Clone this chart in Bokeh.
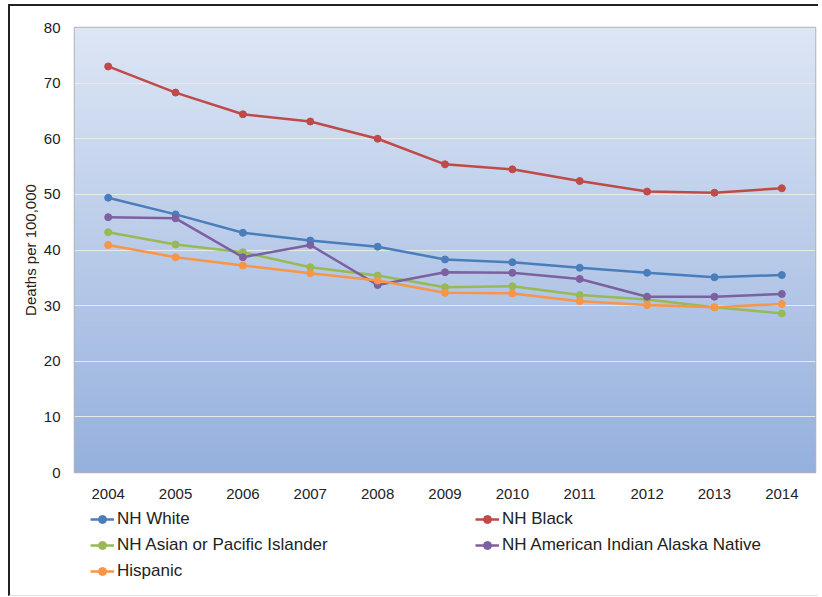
import numpy as np
from bokeh.plotting import figure
from bokeh.layouts import column
from bokeh.models import FixedTicker, Legend, LegendItem, Range1d
from bokeh.embed import file_html
from bokeh.resources import INLINE

years = [2004, 2005, 2006, 2007, 2008, 2009, 2010, 2011, 2012, 2013, 2014]
nh_white = [49.4, 46.4, 43.1, 41.7, 40.6, 38.3, 37.8, 36.8, 35.9, 35.1, 35.5]
nh_black = [73.0, 68.3, 64.4, 63.1, 60.0, 55.4, 54.5, 52.4, 50.5, 50.3, 51.1]
nh_asian = [43.2, 41.0, 39.6, 36.9, 35.4, 33.3, 33.5, 31.9, 31.1, 29.7, 28.6]
nh_aian = [45.9, 45.7, 38.7, 40.9, 33.7, 36.0, 35.9, 34.8, 31.6, 31.6, 32.1]
hispanic = [40.9, 38.7, 37.2, 35.8, 34.5, 32.3, 32.2, 30.8, 30.1, 29.7, 30.3]
y_ticks = [0, 10, 20, 30, 40, 50, 60, 70, 80]

series = [
    ("NH White", nh_white, "#4a7ebb"),
    ("NH Black", nh_black, "#be4b48"),
    ("NH Asian or Pacific Islander", nh_asian, "#98b954"),
    ("NH American Indian Alaska Native", nh_aian, "#7d60a0"),
    ("Hispanic", hispanic, "#f79646"),
]

FONT = "Liberation Sans"

# ---- main chart ----
p = figure(width=808, height=496, output_backend="svg", toolbar_location=None,
           x_range=(2003.5, 2014.5), y_range=(0, 80),
           min_border_left=64, min_border_top=21, min_border_right=3,
           min_border_bottom=30)

# gradient background for plot area
n = 200
top = np.array([221, 230, 245])
bot = np.array([150, 177, 222])
t = np.linspace(0, 1, n)[:, None]
cols = (bot * (1 - t) + top * t).astype(np.uint32)
img = np.empty((n, 1), dtype=np.uint32)
view = img.view(dtype=np.uint8).reshape((n, 1, 4))
view[:, 0, 0] = cols[:, 0]
view[:, 0, 1] = cols[:, 1]
view[:, 0, 2] = cols[:, 2]
view[:, 0, 3] = 255
p.image_rgba(image=[img], x=2003.5, y=0, dw=11, dh=80, level="image")

p.outline_line_color = "#b4b4b4"
p.outline_line_width = 1.5

p.xgrid.grid_line_color = None
p.ygrid.grid_line_color = "#e9e9ec"
p.ygrid.grid_line_width = 1

p.xaxis.ticker = FixedTicker(ticks=years)
p.yaxis.ticker = FixedTicker(ticks=y_ticks)
for ax in (p.xaxis[0], p.yaxis[0]):
    ax.axis_line_color = None
    ax.major_tick_line_color = None
    ax.minor_tick_line_color = None
    ax.major_tick_out = 0
    ax.major_tick_in = 0
    ax.minor_tick_out = 0
    ax.minor_tick_in = 0
    ax.major_label_text_font = FONT
    ax.major_label_text_font_size = "15px"
    ax.major_label_text_color = "#222222"
p.xaxis.major_label_standoff = 16
p.yaxis.major_label_standoff = 14
p.yaxis.axis_label = "Deaths per 100,000"
p.yaxis.axis_label_text_font = FONT
p.yaxis.axis_label_text_font_style = "normal"
p.yaxis.axis_label_text_font_size = "15px"
p.yaxis.axis_label_text_color = "#222222"
p.yaxis.axis_label_standoff = 2

for name, vals, color in series:
    p.line(years, vals, line_color=color, line_width=2.5)
    p.scatter(years, vals, size=7, fill_color=color, line_color=color)

# ---- legend strip (same series, drawn out of its view; only the legend shows) ----
q = figure(width=808, height=93, output_backend="svg", toolbar_location=None,
           x_axis_type=None, y_axis_type=None,
           x_range=Range1d(0, 1), y_range=Range1d(0, 1),
           min_border_left=0, min_border_right=0, min_border_top=0,
           min_border_bottom=0)
q.outline_line_color = None
q.xgrid.grid_line_color = None
q.ygrid.grid_line_color = None

items = []
for name, vals, color in series:
    rl = q.line(years, vals, line_color=color, line_width=2.5)
    rs = q.scatter(years, vals, size=7, fill_color=color, line_color=color)
    items.append(LegendItem(label=name, renderers=[rl, rs]))

legend = Legend(items=items, ncols=2, orientation="horizontal",
                location=(16, 14),
                label_text_font=FONT, label_text_font_size="17px",
                label_text_color="#222222",
                glyph_width=24, glyph_height=20, label_height=20,
                label_standoff=3, label_width=352, spacing=6,
                padding=0, margin=0,
                border_line_color=None, background_fill_alpha=0)
q.add_layout(legend, "center")

layout = column(p, q, spacing=0)
layout.styles = {"border-top": "2px solid #222", "border-left": "2px solid #222",
                 "border-bottom": "1px solid #e0e0e0",
                 "margin-top": "4px", "margin-left": "8px"}

open("out.html", "w").write(file_html(layout, INLINE))
